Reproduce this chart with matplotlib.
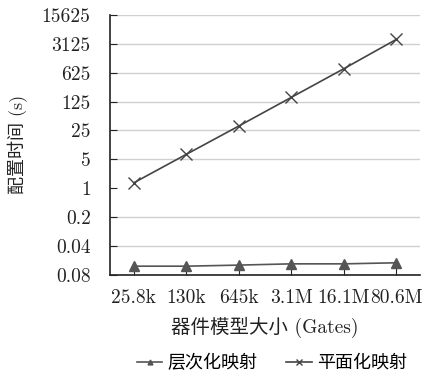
import matplotlib.pyplot as plt

plt.rcParams['font.family'] = ['cmr10', 'Noto Sans CJK SC']
plt.rcParams['axes.unicode_minus'] = False

# data
sizes = ["25.8k", "130k", "645k", "3.1M", "16.1M", "80.6M"]
hier_time = [0.013, 0.013, 0.0138, 0.0148, 0.0148, 0.0157]
flat_time = [1.35, 6.6, 32, 158, 780, 4000]

yticks = [0.008, 0.04, 0.2, 1, 5, 25, 125, 625, 3125, 15625]
ytick_labels = ["0.08", "0.04", "0.2", "1", "5", "25", "125", "625", "3125", "15625"]

fig = plt.figure(figsize=(4.25, 3.74), dpi=100)
ax = fig.add_axes([0.259, 0.265, 0.729, 0.695])

x = range(len(sizes))
ax.plot(x, hier_time, color="#555555", lw=1.2, marker="^", ms=7,
        mfc="#555555", mec="#555555", label="层次化映射")
ax.plot(x, flat_time, color="#444444", lw=1.2, marker="x", ms=9,
        mew=1.0, label="平面化映射")

ax.set_yscale("log")
ax.set_ylim(0.008, 15625)
ax.set_xlim(-0.45, 5.45)
ax.set_yticks(yticks)
ax.set_yticklabels(ytick_labels)
ax.minorticks_off()
ax.set_xticks(list(x))
ax.set_xticklabels(sizes)

ax.yaxis.grid(True, color="#d0d0d0", lw=1.0)
ax.set_axisbelow(True)
# reference has no gridline at the "1" level
ax.get_ygridlines()[3].set_visible(False)

for s in ["top", "right"]:
    ax.spines[s].set_visible(False)
for s in ["left", "bottom"]:
    ax.spines[s].set_color("#222222")
    ax.spines[s].set_linewidth(1.2)

ax.tick_params(axis="both", direction="in", length=5, labelsize=14, colors="#222222",
               labelcolor="#222222")
ax.tick_params(axis="y", pad=14)
ax.tick_params(axis="x", pad=10)

ax.set_xlabel("器件模型大小 (Gates)", fontsize=14, labelpad=7, color="#222222")
ax.set_ylabel("配置时间 (s)", fontsize=13, labelpad=10, color="#222222")

fig.legend(loc="lower center", bbox_to_anchor=(0.64, -0.035), ncol=2, frameon=False,
           fontsize=13, handlelength=1.4, columnspacing=1.6, handletextpad=0.3,
           markerscale=0.5)

fig.savefig("out.png", dpi=100)
